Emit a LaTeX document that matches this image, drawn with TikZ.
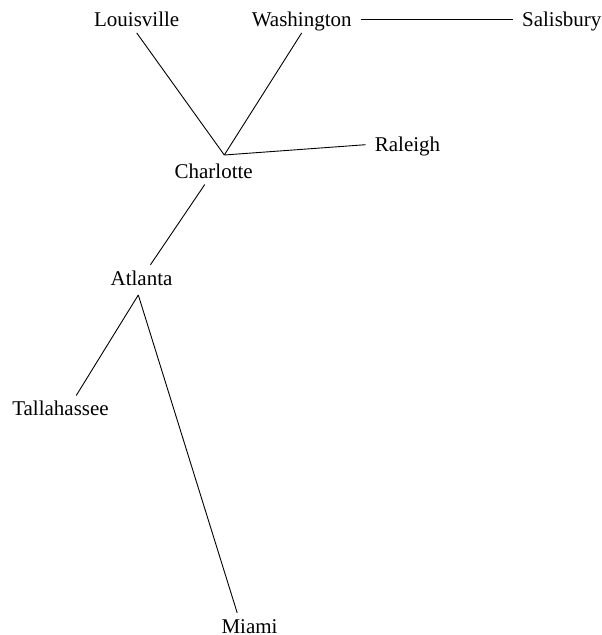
\documentclass[tikz,border=0pt]{standalone}
\usepackage{fontspec}
\setmainfont{Liberation Serif}
\usepackage{tikz}

\begin{document}
\begin{tikzpicture}[x=1pt, y=-1pt,
    city/.style={anchor=base, font=\fontsize{21}{25}\selectfont,
                 text height=14pt, text depth=0pt,
                 inner xsep=9pt, inner ysep=6pt},
    road/.style={line width=0.9pt}]
  % Page frame
  \useasboundingbox (0,0) rectangle (602,635);

  % City names
  \node[city] (lou) at (136.7, 26.7) {Louisville};
  \node[city] (was) at (301.7, 26.7) {Washington};
  \node[city] (sal) at (561.8, 26.7) {Salisbury};
  \node[city] (ral) at (407.5, 151.7) {Raleigh};
  \node[city] (cha) at (213.7, 178.3) {Charlotte};
  \node[city] (atl) at (141.5, 285) {Atlanta};
  \node[city] (tal) at (60.5, 415.7) {Tallahassee};
  \node[city] (mia) at (249.5, 633) {Miami};

  % Junction points above Charlotte and below Atlanta
  \coordinate (chaJ) at (224.3, 155);
  \coordinate (atlJ) at (138.3, 295);

  % Roads out of Charlotte
  \draw[road] (lou.south) -- (chaJ);
  \draw[road] (was.south) -- (chaJ);
  \draw[road] (chaJ) -- (ral.west);
  \draw[road] (was.east) -- (sal.west);
  \draw[road] (cha) -- (atl);

  % Roads out of Atlanta
  \draw[road] (atlJ) -- (tal.40);
  \draw[road] (atlJ) -- (mia.133);
\end{tikzpicture}
\end{document}
